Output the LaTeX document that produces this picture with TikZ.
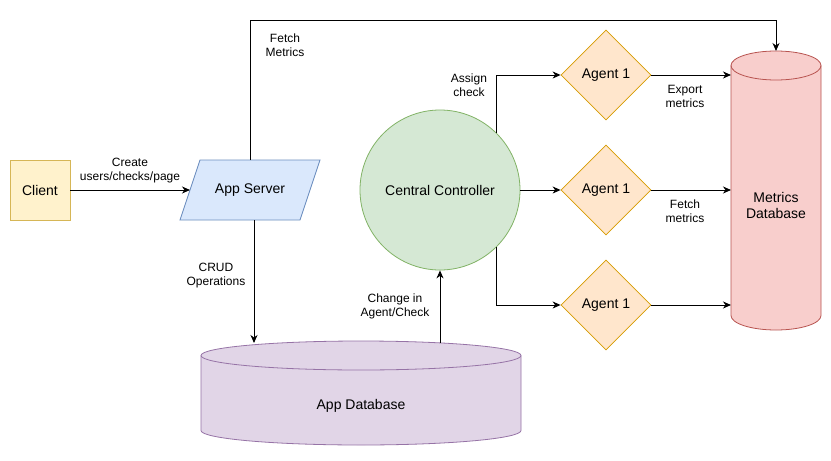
\documentclass[tikz,border=0pt]{standalone}
\usepackage{fontspec}
\setmainfont{Liberation Sans}
\usetikzlibrary{arrows.meta,shapes.geometric}
\definecolor{clientfill}{HTML}{FFF2CC}\definecolor{clientline}{HTML}{D6B656}
\definecolor{asfill}{HTML}{DAE8FC}\definecolor{asline}{HTML}{6C8EBF}
\definecolor{ccfill}{HTML}{D5E8D4}\definecolor{ccline}{HTML}{82B366}
\definecolor{agfill}{HTML}{FFE6CC}\definecolor{agline}{HTML}{D79B00}
\definecolor{mdbfill}{HTML}{F8CECC}\definecolor{mdbline}{HTML}{B85450}
\definecolor{adbfill}{HTML}{E1D5E7}\definecolor{adbline}{HTML}{9673A6}
\tikzset{
  mainlbl/.style={font=\fontsize{14}{16}\selectfont, align=center, inner sep=0pt},
  edgelbl/.style={font=\fontsize{12}{14}\selectfont, align=center, inner sep=0pt},
  conn/.style={line width=1pt, -{Stealth[length=8pt,width=7pt,inset=2.5pt]}},
  plainconn/.style={line width=1pt},
  agentbox/.style={diamond, aspect=1, minimum size=90pt, inner sep=0pt, fill=agfill, draw=agline, line width=0.8pt, font=\fontsize{14}{16}\selectfont},
}
\begin{document}
\begin{tikzpicture}[x=1pt,y=1pt]
\useasboundingbox (0,0) rectangle (831,-461);
\fill[white] (0,0) rectangle (831,-461);

% Client
\node[draw=clientline, fill=clientfill, line width=0.8pt, minimum width=60pt, minimum height=60pt, inner sep=0pt, font=\fontsize{14}{16}\selectfont] (client) at (40,-190) {Client};

% App Server parallelogram
\filldraw[fill=asfill, draw=asline, line width=0.8pt] (200,-160) -- (320,-160) -- (300,-220) -- (180,-220) -- cycle;
\node[mainlbl] (as) at (250,-190) {App Server};
\coordinate (asleft) at (190,-190);
\coordinate (astop) at (250,-160);
\coordinate (asbot) at (254,-220);

% Central controller
\node[circle, minimum size=160pt, inner sep=0pt, fill=ccfill, draw=ccline, line width=0.8pt, font=\fontsize{14}{16}\selectfont] (cc) at (440,-190) {Central Controller};

% Agents
\node[agentbox] (ag1) at (606,-75) {Agent 1};
\node[agentbox] (ag2) at (606,-190) {Agent 1};
\node[agentbox] (ag3) at (606,-305) {Agent 1};

% Metrics Database cylinder
\filldraw[fill=mdbfill, draw=mdbline, line width=0.8pt]
  (731,-65.5) -- (731,-315.5) arc[start angle=180, end angle=360, x radius=45, y radius=14.5]
  -- (821,-65.5) arc[start angle=0, end angle=180, x radius=45, y radius=14.5] -- cycle;
\draw[draw=mdbline, line width=0.8pt] (731,-65.5) arc[start angle=180, end angle=360, x radius=45, y radius=14.5];
\node[mainlbl] (mdb) at (776,-205) {Metrics\\Database};
\coordinate (mdbtop) at (776,-51);
\coordinate (mdbw1) at (731,-75);
\coordinate (mdbw2) at (731,-190);
\coordinate (mdbw3) at (731,-305);

% App Database cylinder
\filldraw[fill=adbfill, draw=adbline, line width=0.8pt]
  (201,-355.5) -- (201,-430.5) arc[start angle=180, end angle=360, x radius=160, y radius=14.5]
  -- (521,-355.5) arc[start angle=0, end angle=180, x radius=160, y radius=14.5] -- cycle;
\draw[draw=adbline, line width=0.8pt] (201,-355.5) arc[start angle=180, end angle=360, x radius=160, y radius=14.5];
\node[mainlbl] (adb) at (361,-406) {App Database};
\coordinate (adbin) at (254,-343);
\coordinate (adbout) at (440,-343);

% Connectors
\draw[conn] (client.east) -- (asleft);
\draw[conn] (astop) -- (250,-20) -| (mdbtop);
\draw[conn] (asbot) -- (adbin);
\draw[conn] (adbout) -- (cc.south);
\draw[conn] (cc.north east) |- (ag1.west);
\draw[conn] (cc.east) -- (ag2.west);
\draw[conn] (cc.south east) |- (ag3.west);
\draw[conn] (ag1.east) -- (mdbw1);
\draw[conn] (ag2.east) -- (mdbw2);
\draw[conn] (ag3.east) -- (mdbw3);

% Edge labels
\node[edgelbl] (lcreate) at (130,-171) {Create\\users/checks/page};
\node[edgelbl] (lfetchM) at (285,-45) {Fetch\\Metrics};
\node[edgelbl] (lassign) at (469,-85) {Assign\\check};
\node[edgelbl] (lexport) at (685,-96) {Export\\metrics};
\node[edgelbl] (lfetchm) at (685,-211) {Fetch\\metrics};
\node[edgelbl] (lcrud) at (216,-276) {CRUD\\Operations};
\node[edgelbl] (lchange) at (395,-306) {Change in\\Agent/Check};
\end{tikzpicture}
\end{document}
